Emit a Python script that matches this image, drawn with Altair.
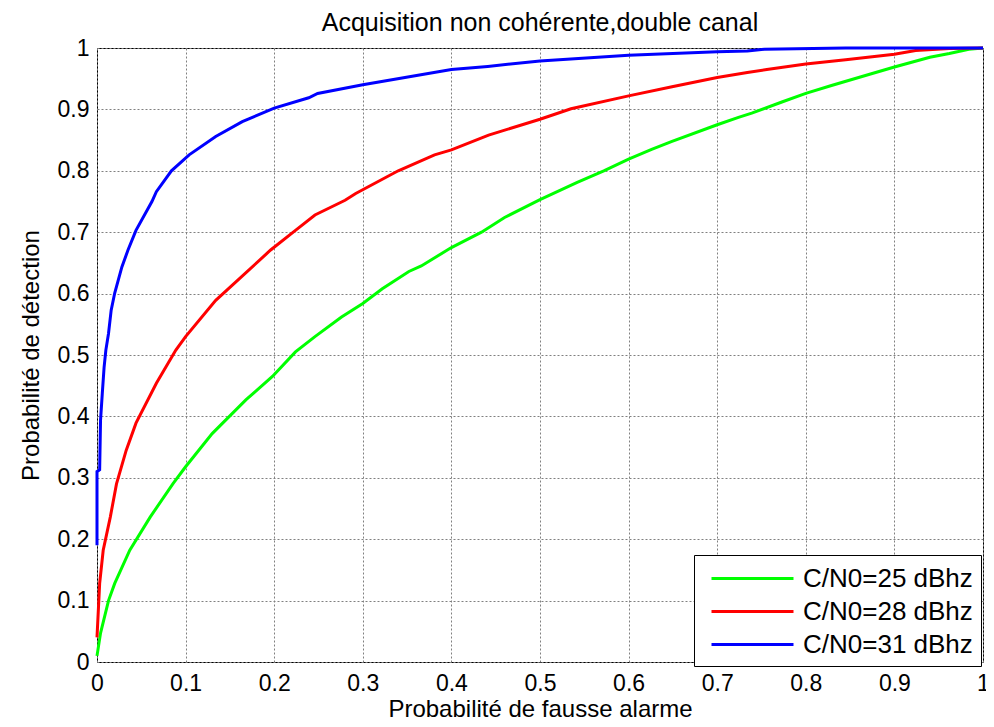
import altair as alt
import pandas as pd

series_names = ["C/N0=25 dBhz", "C/N0=28 dBhz", "C/N0=31 dBhz"]
series_colors = ["#00ff00", "#ff0000", "#0000ff"]

# C/N0 = 25 dBhz
pfa_25 = [0.0, 0.004, 0.013, 0.02, 0.037, 0.06, 0.086, 0.1, 0.13, 0.168, 0.198,
          0.224, 0.246, 0.276, 0.3, 0.322, 0.352, 0.366, 0.4, 0.434, 0.46, 0.5,
          0.542, 0.572, 0.6, 0.626, 0.649, 0.7, 0.724, 0.739, 0.773, 0.8, 0.829,
          0.874, 0.9, 0.94, 0.962, 0.984, 1.0]
pd_25 = [0.01, 0.047, 0.1, 0.128, 0.182, 0.236, 0.291, 0.318, 0.372, 0.427, 0.465,
         0.505, 0.53, 0.562, 0.584, 0.608, 0.636, 0.645, 0.675, 0.70, 0.724, 0.753,
         0.781, 0.80, 0.819, 0.835, 0.848, 0.875, 0.887, 0.894, 0.912, 0.926, 0.939,
         0.958, 0.969, 0.985, 0.991, 0.998, 1.0]

# C/N0 = 28 dBhz
pfa_28 = [0.0, 0.003, 0.007, 0.015, 0.022, 0.033, 0.044, 0.067, 0.089, 0.1, 0.134,
          0.196, 0.224, 0.246, 0.28, 0.292, 0.34, 0.381, 0.4, 0.442, 0.5, 0.535,
          0.6, 0.649, 0.7, 0.734, 0.756, 0.8, 0.845, 0.9, 0.924, 0.962, 1.0]
pd_28 = [0.04, 0.128, 0.182, 0.236, 0.29, 0.345, 0.389, 0.454, 0.508, 0.53, 0.589,
         0.671, 0.703, 0.728, 0.752, 0.763, 0.8, 0.826, 0.834, 0.858, 0.884, 0.901,
         0.922, 0.937, 0.952, 0.96, 0.965, 0.974, 0.981, 0.99, 0.996, 0.999, 1.0]

# C/N0 = 31 dBhz
pfa_31 = [0.0, 0.0, 0.003, 0.004, 0.006, 0.008, 0.01, 0.013, 0.016, 0.02, 0.028,
          0.035, 0.044, 0.062, 0.067, 0.084, 0.104, 0.134, 0.164, 0.2, 0.239,
          0.249, 0.3, 0.4, 0.441, 0.5, 0.6, 0.7, 0.734, 0.753, 0.845, 1.0]
pd_31 = [0.19, 0.31, 0.313, 0.394, 0.438, 0.48, 0.508, 0.535, 0.573, 0.601, 0.643,
         0.671, 0.703, 0.75, 0.766, 0.8, 0.826, 0.856, 0.88, 0.902, 0.919,
         0.926, 0.94, 0.965, 0.97, 0.979, 0.988, 0.994, 0.995, 0.998, 1.0, 1.0]

tick_values = [0, 0.1, 0.2, 0.3, 0.4, 0.5, 0.6, 0.7, 0.8, 0.9, 1]

rows = []
for name, xs, ys in zip(series_names, [pfa_25, pfa_28, pfa_31], [pd_25, pd_28, pd_31]):
    for i, (xv, yv) in enumerate(zip(xs, ys)):
        rows.append({"series": name, "pfa": xv, "pd": yv, "idx": i})
df = pd.DataFrame(rows)

FONT = "Liberation Sans"

chart = alt.Chart(df).mark_line(strokeWidth=3).encode(
    x=alt.X("pfa:Q",
            scale=alt.Scale(domain=[0, 1], nice=False, zero=False),
            axis=alt.Axis(values=tick_values, format="~g",
                          title="Probabilité de fausse alarme",
                          labelFlush=False, labelOverlap=False, labelPadding=10,
                          titleY=54, titleBaseline="alphabetic")),
    y=alt.Y("pd:Q",
            scale=alt.Scale(domain=[0, 1], nice=False, zero=False),
            axis=alt.Axis(values=tick_values, format="~g",
                          title="Probabilité de détection",
                          labelOverlap=False, labelPadding=8,
                          titleX=-59, titleY=307, titleAngle=270,
                          titleBaseline="alphabetic", titleAlign="center")),
    stroke=alt.Stroke("series:N",
                      scale=alt.Scale(domain=series_names, range=series_colors),
                      legend=alt.Legend(title=None, orient="none",
                                        legendX=597, legendY=507,
                                        direction="vertical",
                                        fillColor="white", strokeColor="black",
                                        padding=8, rowPadding=4,
                                        symbolType="M-3,0H3", symbolSize=747,
                                        symbolStrokeWidth=3, symbolOffset=35,
                                        labelFontSize=26, labelFont=FONT,
                                        labelColor="black", labelOffset=35,
                                        labelLimit=400)),
    order="idx:Q",
).properties(
    width=886,
    height=614,
    title=alt.Title("Acquisition non cohérente,double canal",
                    font=FONT, fontSize=25, fontWeight="normal", color="black",
                    anchor="middle", baseline="bottom", offset=0, dy=24),
    autosize=alt.AutoSizeParams(type="none"),
    padding={"left": 89, "top": 40, "right": 3, "bottom": 57},
).configure_view(
    stroke="black", strokeWidth=1
).configure_axis(
    grid=True, gridColor="#808080", gridDash=[2, 2], gridWidth=1, gridOpacity=1,
    domain=False, ticks=False,
    labelFont=FONT, labelFontSize=23, labelColor="black",
    titleFont=FONT, titleFontSize=24, titleFontWeight="normal", titleColor="black",
)

chart.save("out.html", embed_options={"renderer": "svg", "actions": False})
